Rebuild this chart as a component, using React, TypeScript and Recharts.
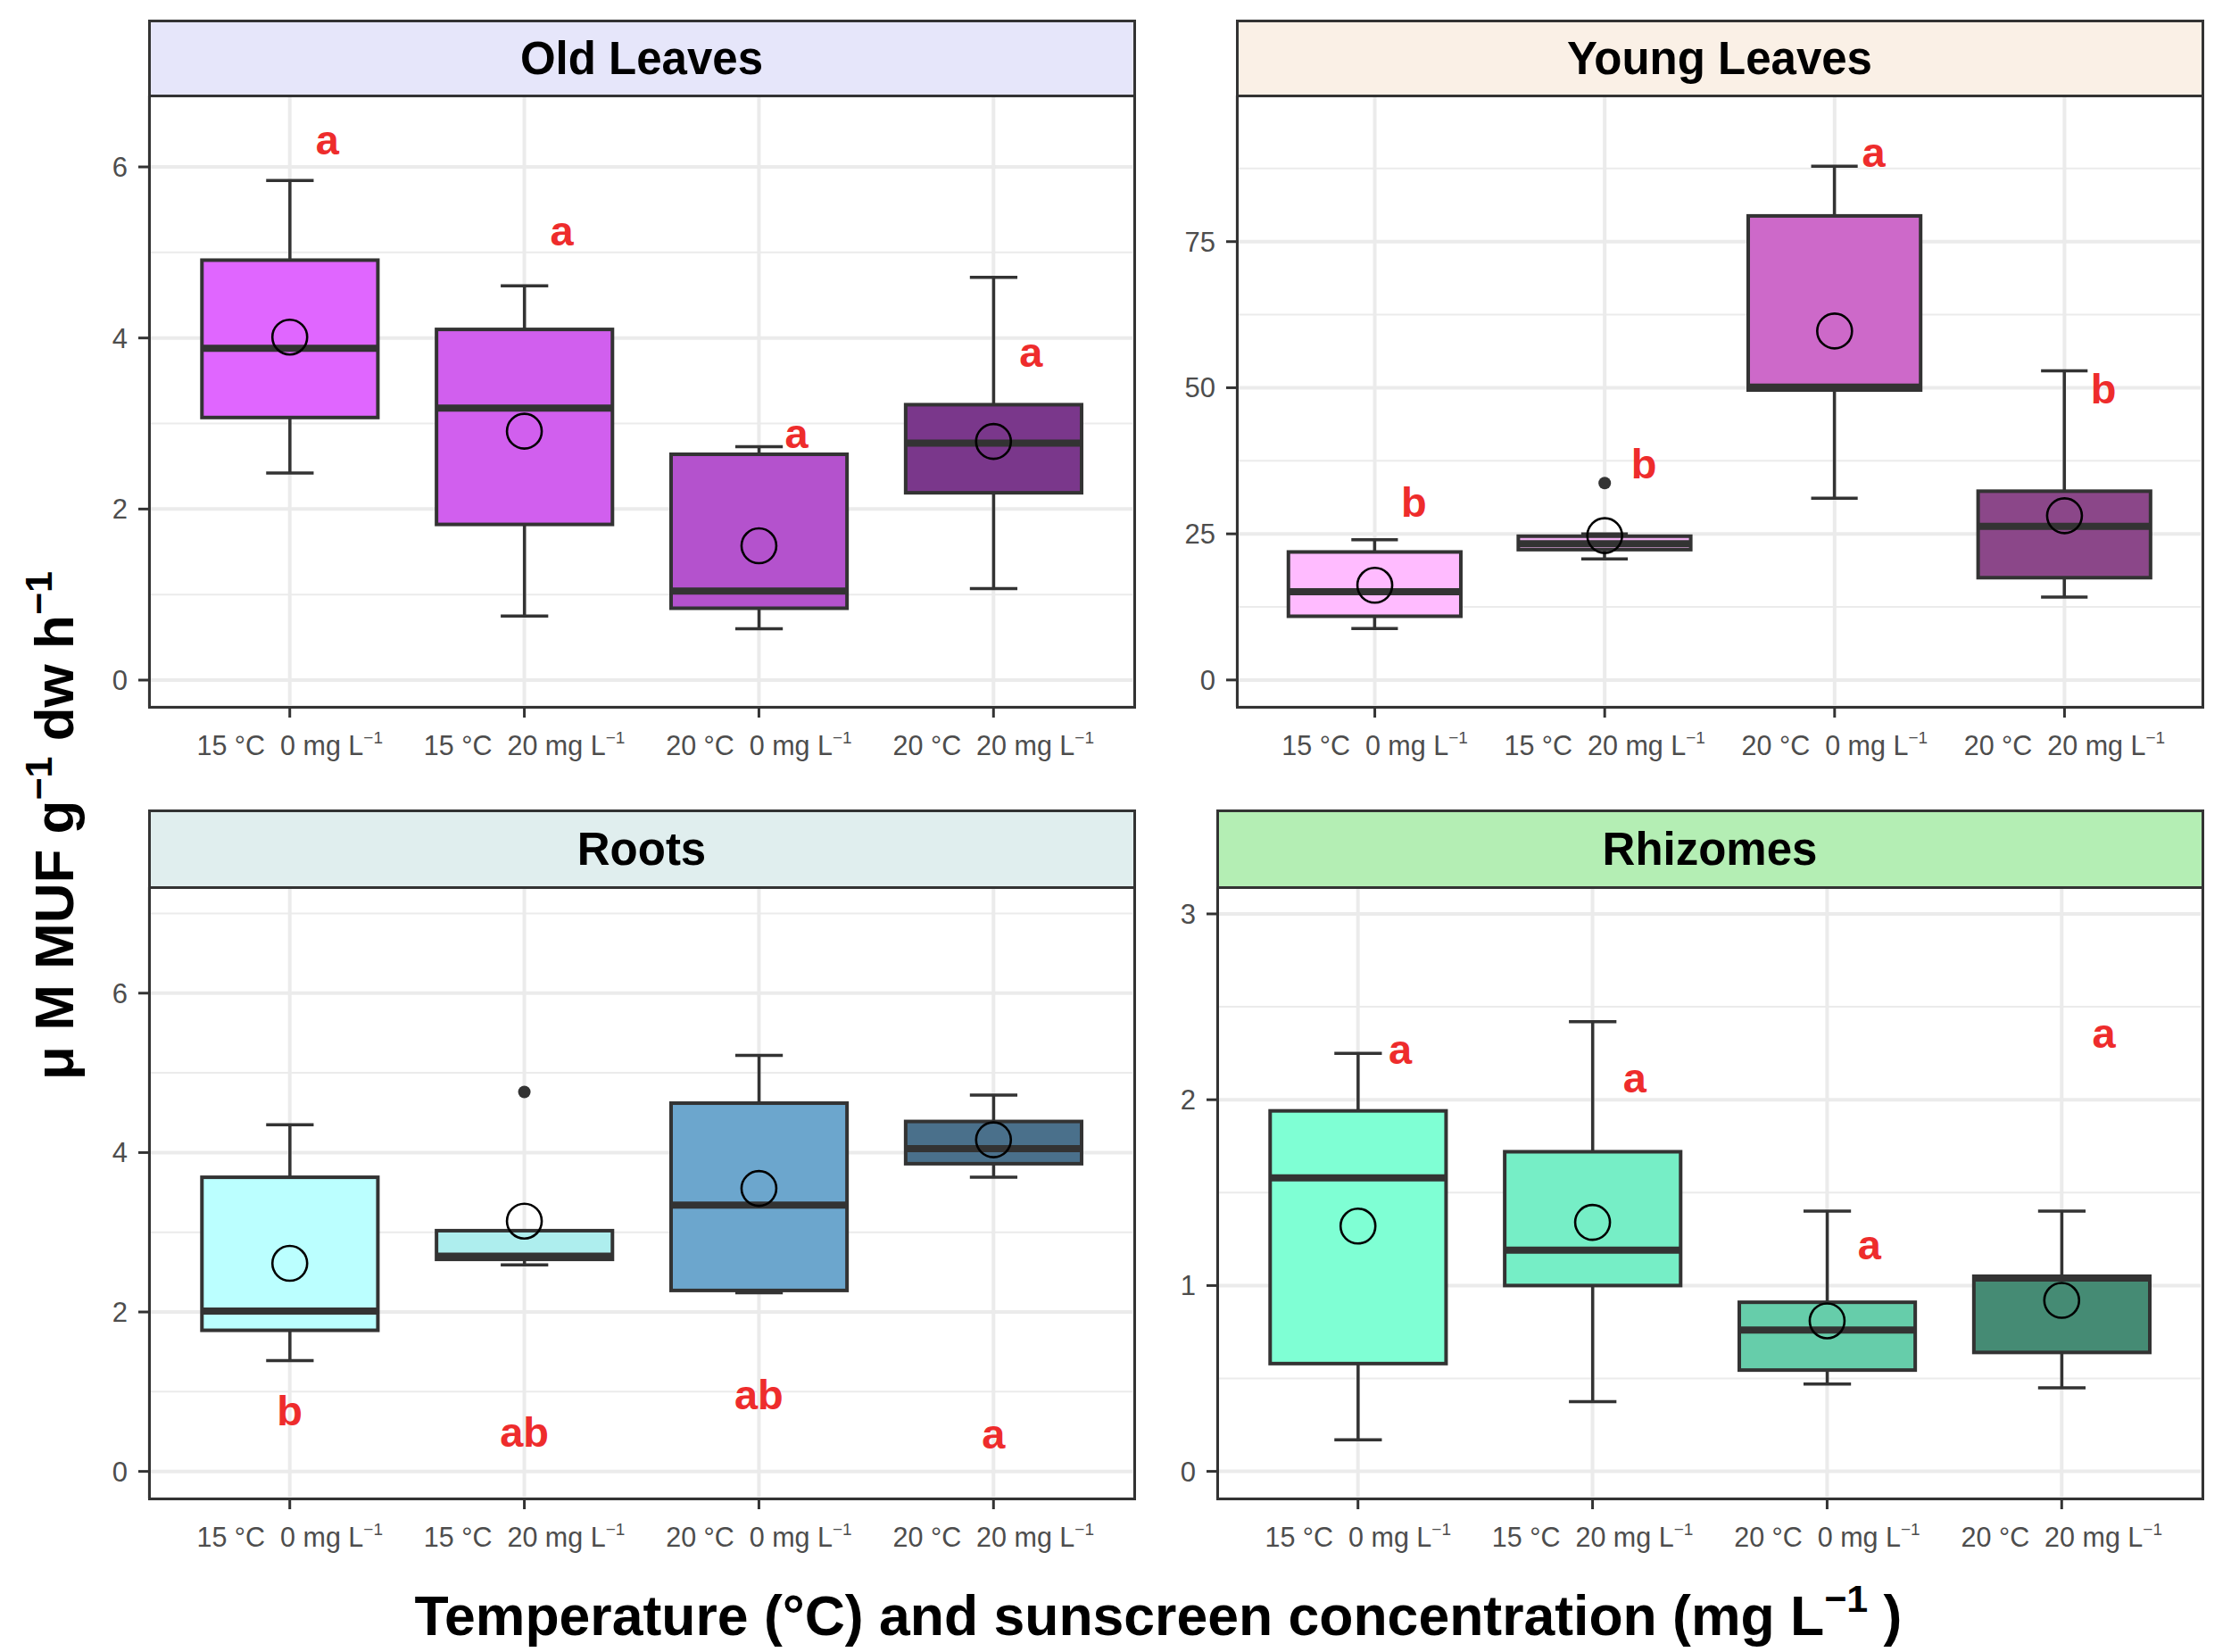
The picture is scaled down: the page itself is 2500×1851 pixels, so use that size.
import React from 'react';
import {
  ComposedChart,
  Bar,
  Scatter,
  XAxis,
  YAxis,
  CartesianGrid,
} from 'recharts';

const FONT = '"Liberation Sans", Arial, Helvetica, sans-serif';

// categories
const temps = ['15 °C', '15 °C', '20 °C', '20 °C'];
const concs = ['0', '20', '0', '20'];
const catTicks = [1, 2, 3, 4];

// Old Leaves
const oldLo = [2.42, 0.75, 0.6, 1.07];
const oldQ1 = [3.07, 1.82, 0.84, 2.19];
const oldMed = [3.88, 3.18, 1.04, 2.77];
const oldQ3 = [4.91, 4.1, 2.64, 3.22];
const oldHi = [5.84, 4.61, 2.73, 4.71];
const oldMean = [4.01, 2.91, 1.57, 2.79];
const oldOut: number[][] = [[], [], [], []];
const oldLetters = ['a', 'a', 'a', 'a'];
const oldLetterY = [6.32, 5.25, 2.89, 3.83];

// Young Leaves
const youngLo = [8.8, 20.7, 31.1, 14.2];
const youngQ1 = [10.9, 22.3, 49.6, 17.5];
const youngMed = [15.1, 23.3, 50.1, 26.3];
const youngQ3 = [21.9, 24.6, 79.4, 32.3];
const youngHi = [24.0, 25.0, 87.9, 52.9];
const youngMean = [16.2, 24.7, 59.7, 28.1];
const youngOut: number[][] = [[], [33.7], [], []];
const youngLetters = ['b', 'b', 'a', 'b'];
const youngLetterY = [30.4, 37.0, 90.3, 49.9];

// Roots
const rootLo = [1.39, 2.59, 2.24, 3.69];
const rootQ1 = [1.77, 2.66, 2.27, 3.86];
const rootMed = [2.01, 2.7, 3.34, 4.05];
const rootQ3 = [3.69, 3.02, 4.62, 4.39];
const rootHi = [4.35, 3.02, 5.22, 4.72];
const rootMean = [2.61, 3.14, 3.55, 4.16];
const rootOut: number[][] = [[], [4.76], [], []];
const rootLetters = ['b', 'ab', 'ab', 'a'];
const rootLetterY = [0.76, 0.49, 0.97, 0.47];

// Rhizomes
const rhizLo = [0.17, 0.375, 0.47, 0.45];
const rhizQ1 = [0.58, 1.0, 0.545, 0.64];
const rhizMed = [1.58, 1.19, 0.76, 1.04];
const rhizQ3 = [1.94, 1.72, 0.91, 1.05];
const rhizHi = [2.25, 2.42, 1.4, 1.4];
const rhizMean = [1.32, 1.34, 0.81, 0.92];
const rhizOut: number[][] = [[], [], [], []];
const rhizLetters = ['a', 'a', 'a', 'a'];
const rhizLetterY = [2.27, 2.12, 1.22, 2.36];

const panels = [
  {
    title: 'Old Leaves',
    strip: '#E6E6FA',
    fills: ['#E066FF', '#D15FEE', '#B452CD', '#7A378B'],
    lo: oldLo, q1: oldQ1, med: oldMed, q3: oldQ3, hi: oldHi, mean: oldMean,
    out: oldOut, letters: oldLetters, letterY: oldLetterY, shift: 0.16,
    domain: [-0.313, 6.835], ticks: [0, 2, 4, 6], minor: [1, 3, 5],
    left: 167, top: 107, width: 1104, stripTop: 22,
  },
  {
    title: 'Young Leaves',
    strip: '#FAF0E6',
    fills: ['#FFBBFF', '#EEAEEE', '#CD69C9', '#8B4789'],
    lo: youngLo, q1: youngQ1, med: youngMed, q3: youngQ3, hi: youngHi, mean: youngMean,
    out: youngOut, letters: youngLetters, letterY: youngLetterY, shift: 0.17,
    domain: [-4.6, 100.0], ticks: [0, 25, 50, 75], minor: [12.5, 37.5, 62.5, 87.5],
    left: 1386, top: 107, width: 1082, stripTop: 22,
  },
  {
    title: 'Roots',
    strip: '#E0EEEE',
    fills: ['#BBFFFF', '#AEEEEE', '#6CA6CD', '#4A708B'],
    lo: rootLo, q1: rootQ1, med: rootMed, q3: rootQ3, hi: rootHi, mean: rootMean,
    out: rootOut, letters: rootLetters, letterY: rootLetterY, shift: 0,
    domain: [-0.34, 7.33], ticks: [0, 2, 4, 6], minor: [1, 3, 5, 7],
    left: 167, top: 994, width: 1104, stripTop: 907,
  },
  {
    title: 'Rhizomes',
    strip: '#B4EEB4',
    fills: ['#7FFFD4', '#76EEC6', '#66CDAA', '#458B74'],
    lo: rhizLo, q1: rhizQ1, med: rhizMed, q3: rhizQ3, hi: rhizHi, mean: rhizMean,
    out: rhizOut, letters: rhizLetters, letterY: rhizLetterY, shift: 0.18,
    domain: [-0.146, 3.144], ticks: [0, 1, 2, 3], minor: [0.5, 1.5, 2.5],
    left: 1364, top: 994, width: 1104, stripTop: 907,
  },
];

const PLOT_H = 685;
const Y_W = 130;
const X_H = 80;
const EDGE = '#333333';

const CatTick = (props: any) => {
  const { x, y, payload } = props;
  const i = Math.round(payload.value) - 1;
  return (
    <text
      x={x}
      y={y + 38}
      textAnchor="middle"
      fontSize={30.5}
      fill="#4D4D4D"
      fontFamily={FONT}
      xmlSpace="preserve"
      style={{ whiteSpace: 'pre' }}
    >
      {`${temps[i]}  ${concs[i]} mg L`}
      <tspan dy={-13} fontSize={19}>−1</tspan>
    </text>
  );
};

const makeBoxShape = (fills: string[]) => (props: any) => {
  const { x, y, width, height, payload, index } = props;
  const top = Math.min(y, y + height);
  const bot = Math.max(y, y + height);
  const k = (bot - top) / (payload.hi - payload.lo);
  const py = (v: number) => bot - (v - payload.lo) * k;
  const cx = x + width / 2;
  const cap = width * 0.27;
  return (
    <g>
      <line x1={cx} x2={cx} y1={py(payload.hi)} y2={py(payload.lo)} stroke={EDGE} strokeWidth={3.5} />
      <line x1={cx - cap / 2} x2={cx + cap / 2} y1={py(payload.hi)} y2={py(payload.hi)} stroke={EDGE} strokeWidth={3.5} />
      <line x1={cx - cap / 2} x2={cx + cap / 2} y1={py(payload.lo)} y2={py(payload.lo)} stroke={EDGE} strokeWidth={3.5} />
      <rect
        x={x}
        y={py(payload.q3)}
        width={width}
        height={py(payload.q1) - py(payload.q3)}
        fill={fills[index]}
        stroke={EDGE}
        strokeWidth={4}
      />
      <line x1={x} x2={x + width} y1={py(payload.med)} y2={py(payload.med)} stroke={EDGE} strokeWidth={8} />
    </g>
  );
};

const MeanShape = (props: any) => (
  <circle cx={props.cx} cy={props.cy} r={19.5} fill="none" stroke="#000" strokeWidth={2.6} />
);

const OutShape = (props: any) => <circle cx={props.cx} cy={props.cy} r={7} fill={EDGE} />;

const LetterShape = (props: any) => (
  <text
    x={props.cx}
    y={props.cy}
    textAnchor="middle"
    dominantBaseline="central"
    fontSize={47}
    fontWeight="bold"
    fill="#EE2C2C"
    fontFamily={FONT}
  >
    {props.payload.label}
  </text>
);

function Panel({ p }: { p: (typeof panels)[number] }) {
  const rows = catTicks.map((c, i) => ({
    x: c,
    lo: p.lo[i],
    q1: p.q1[i],
    med: p.med[i],
    q3: p.q3[i],
    hi: p.hi[i],
  }));
  const means = catTicks.map((c, i) => ({ x: c, mean: p.mean[i] }));
  const outs = catTicks.flatMap((c, i) => p.out[i].map((v) => ({ x: c, y: v })));
  const letters = catTicks.map((c, i) => ({ x: c + p.shift, y: p.letterY[i], label: p.letters[i] }));
  const unit = p.width / 4.2;
  const chartW = Y_W + p.width + 4;
  const chartH = PLOT_H + X_H;

  return (
    <>
      <div
        style={{
          position: 'absolute',
          left: p.left - 1.5,
          top: p.stripTop,
          width: p.width + 3,
          height: p.top - p.stripTop + 1.5,
          boxSizing: 'border-box',
          border: `3px solid ${EDGE}`,
          background: p.strip,
          display: 'flex',
          alignItems: 'center',
          justifyContent: 'center',
          fontFamily: FONT,
          fontWeight: 'bold',
          fontSize: 51,
          color: '#000',
        }}
      >
        {p.title}
      </div>
      <div style={{ position: 'absolute', left: p.left - Y_W, top: p.top }}>
        <ComposedChart
          width={chartW}
          height={chartH}
          data={rows}
          margin={{ top: 0, right: 4, bottom: 0, left: 0 }}
        >
          {/* minor gridlines from a hidden axis with the same domain */}
          <CartesianGrid yAxisId="minor" stroke="#EBEBEB" strokeWidth={2} vertical={false} />
          <CartesianGrid stroke="#EBEBEB" strokeWidth={4} />
          <XAxis
            type="number"
            dataKey="x"
            domain={[0.4, 4.6]}
            ticks={catTicks}
            interval={0}
            allowDataOverflow
            height={X_H}
            axisLine={false}
            tickSize={12}
            tickMargin={4}
            tickLine={{ stroke: EDGE, strokeWidth: 3 }}
            tick={<CatTick />}
          />
          <XAxis
            xAxisId="lab"
            type="number"
            dataKey="x"
            domain={[0.4, 4.6]}
            allowDataOverflow
            hide
          />
          <YAxis
            type="number"
            domain={p.domain}
            ticks={p.ticks}
            allowDataOverflow
            width={Y_W}
            axisLine={false}
            tickSize={12}
            tickMargin={12}
            tickLine={{ stroke: EDGE, strokeWidth: 3 }}
            tick={{ fill: '#4D4D4D', fontSize: 31, fontFamily: FONT }}
          />
          <YAxis
            yAxisId="minor"
            type="number"
            domain={p.domain}
            ticks={p.minor}
            interval={0}
            allowDataOverflow
            hide
          />
          <Bar
            dataKey={(d: any) => [d.lo, d.hi]}
            barSize={unit * 0.75}
            shape={makeBoxShape(p.fills)}
            isAnimationActive={false}
          />
          {outs.length > 0 && (
            <Scatter data={outs} dataKey="y" shape={OutShape} isAnimationActive={false} />
          )}
          <Scatter data={means} dataKey="mean" shape={MeanShape} isAnimationActive={false} />
          <Scatter
            data={letters}
            xAxisId="lab"
            dataKey="y"
            shape={LetterShape}
            isAnimationActive={false}
          />
        </ComposedChart>
      </div>
      <div
        style={{
          position: 'absolute',
          left: p.left - 1.5,
          top: p.top - 1.5,
          width: p.width + 3,
          height: PLOT_H + 3,
          boxSizing: 'border-box',
          border: `3px solid ${EDGE}`,
          pointerEvents: 'none',
        }}
      />
    </>
  );
}

export default function App() {
  return (
    <div
      style={{
        position: 'absolute',
        left: 0,
        top: 0,
        width: 2500,
        height: 1851,
        background: '#fff',
        overflow: 'hidden',
      }}
    >
      {panels.map((p) => (
        <Panel key={p.title} p={p} />
      ))}
      <svg
        width={2500}
        height={1851}
        style={{ position: 'absolute', left: 0, top: 0, pointerEvents: 'none' }}
      >
        <text
          transform="translate(82, 925) rotate(-90)"
          textAnchor="middle"
          fontFamily={FONT}
          fontWeight="bold"
          fontSize={62}
          fill="#000"
          xmlSpace="preserve"
        >
          μ M MUF g<tspan dy={-24} fontSize={43}>−1</tspan>
          <tspan dy={24}> dw h</tspan>
          <tspan dy={-24} fontSize={43}>−1</tspan>
        </text>
        <text
          x={1298}
          y={1832}
          textAnchor="middle"
          fontFamily={FONT}
          fontWeight="bold"
          fontSize={62.5}
          fill="#000"
          xmlSpace="preserve"
        >
          Temperature (°C) and sunscreen concentration (mg L
          <tspan dy={-26} fontSize={43}>−1</tspan>
          <tspan dy={26}> )</tspan>
        </text>
      </svg>
    </div>
  );
}
